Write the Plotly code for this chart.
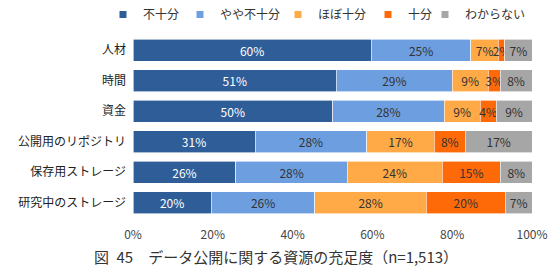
import plotly.graph_objects as go

categories = ["人材", "時間", "資金", "公開用のリポジトリ", "保存用ストレージ", "研究中のストレージ"]
series_names = ["不十分", "やや不十分", "ほぼ十分", "十分", "わからない"]
v_insufficient = [59.7, 51.0, 50.0, 30.6, 25.8, 19.6]
v_somewhat_insufficient = [25.0, 29.0, 28.0, 28.0, 27.9, 26.0]
v_mostly_sufficient = [6.9, 9.0, 9.0, 16.9, 23.8, 27.9]
v_sufficient = [1.6, 3.0, 4.0, 7.8, 14.6, 19.8]
v_unknown = [6.8, 8.0, 9.0, 16.7, 7.9, 6.7]
tick_vals = [0, 20, 40, 60, 80, 100]
tick_text = ["0%", "20%", "40%", "60%", "80%", "100%"]
caption = "図\u200245　データ公開に関する資源の充足度（n=1,513）"

colors = ["#2F5D97", "#6D9FE0", "#FFA947", "#FF6A08", "#A6A6A6"]
text_colors = ["#FFFFFF", "#333333", "#333333", "#333333", "#333333"]
series = [v_insufficient, v_somewhat_insufficient, v_mostly_sufficient, v_sufficient, v_unknown]
legend_x_px = [103, 180, 278, 368, 425]

FONT = "Noto Sans CJK JP"
fig = go.Figure()
legend_layout = {}
for i, (name, vals, c, tc) in enumerate(zip(series_names, series, colors, text_colors)):
    lname = "legend" if i == 0 else f"legend{i + 1}"
    fig.add_trace(go.Bar(
        y=categories, x=vals, name=name, orientation="h",
        marker=dict(color=c, line=dict(color="#FFFFFF", width=0.6)),
        texttemplate="%{x:.0f}%", textposition="inside", insidetextanchor="middle",
        textangle=0,
        textfont=dict(color=tc, size=12, family=FONT),
        constraintext="none", cliponaxis=False, showlegend=False,
    ))
    fig.add_trace(go.Scatter(
        x=[None], y=[None], mode="markers", name=name, legend=lname,
        marker=dict(symbol="square", size=7, color=c), showlegend=True,
    ))
    legend_layout[lname] = dict(
        orientation="h", xref="container", yref="container",
        x=legend_x_px[i] / 550, xanchor="left", y=1.0, yanchor="top",
        font=dict(size=12, color="#333333"), itemwidth=30,
        bgcolor="rgba(0,0,0,0)",
    )

fig.update_layout(
    barmode="stack", bargap=0.29,
    width=550, height=269,
    margin=dict(l=133, r=18, t=35, b=51, autoexpand=False),
    paper_bgcolor="white", plot_bgcolor="white",
    font=dict(family=FONT, size=12, color="#333333"),
    uniformtext=dict(minsize=8, mode="show"),
    showlegend=True,
    **legend_layout,
)
fig.update_xaxes(range=[0, 100], tickvals=tick_vals, ticktext=tick_text,
                 showgrid=False, zeroline=False, showline=False,
                 tickfont=dict(size=12, color="#444444"), ticks="", ticklabelstandoff=8)
fig.update_yaxes(autorange="reversed", showgrid=False, showline=False,
                 tickfont=dict(size=12, color="#222222"), ticks="", ticklabelstandoff=6)
fig.add_annotation(text=caption, xref="paper", yref="paper", x=(275.5 - 133) / 399, y=-0.209,
                   xanchor="center", yanchor="middle", showarrow=False,
                   font=dict(size=15, color="#333333", family=FONT))
fig.write_html("out.html")
